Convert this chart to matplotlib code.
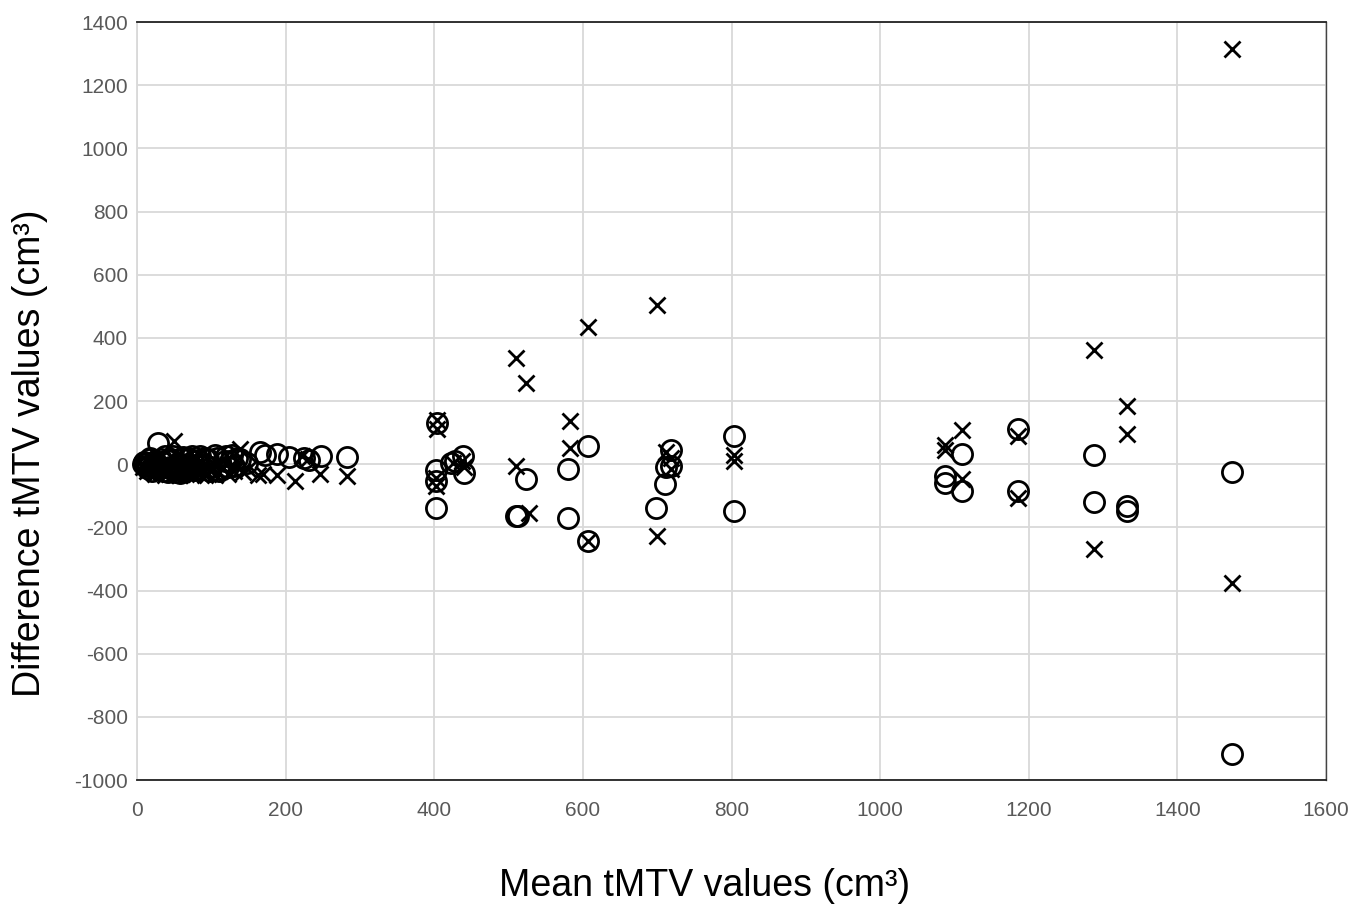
import matplotlib
matplotlib.use("Agg")
import matplotlib.pyplot as plt

plt.rcParams['font.family'] = ['Liberation Sans', 'DejaVu Sans']
plt.rcParams['axes.unicode_minus'] = False

# series 1 (circles): mean tMTV vs difference
mean_o = [8, 10, 12, 14, 15, 17, 18, 20, 22, 24, 25, 28, 30, 32, 33, 36, 38, 40, 42, 44, 46,
          48, 50, 52, 55, 58, 60, 62, 64, 66, 68, 70, 72, 74, 76, 78, 80, 82, 85, 88, 90, 92,
          95, 98, 100, 105, 108, 110, 115, 118, 120, 122, 125, 128, 130, 135, 138, 148, 165,
          172, 188, 205, 225, 232, 247, 282,
          404, 402, 402, 403, 423, 428, 439, 440, 510, 513, 524, 580, 580, 607, 607, 699,
          712, 710, 718, 718, 803, 803,
          1087, 1087, 1110, 1110, 1185, 1185, 1288, 1288, 1332, 1332, 1473, 1473]
diff_o = [0, 8, 5, -12, -5, 20, 15, -20, -10, 10, 0, 68, -15, 18, 8, -20, 25, 12, -25, -8, 18,
          25, -10, -25, 5, -28, 15, 22, -12, -20, 20, 0, -5, 25, 10, -15, -18, 12, 25, -5, 0, 20,
          15, -22, -10, 28, 20, -20, -15, 10, 25, -10, 10, 30, -5, 20, 15, 5, 38,
          30, 32, 22, 20, 12, 26, 22,
          130, -17, -54, -138, 4, 10, 25, -27, -163, -165, -48, -14, -170, 57, -242, -138,
          -10, -62, 45, -5, 89, -147,
          -38, -59, 31, -85, 112, -86, 28, -119, -133, -149, -25, -917]

# series 2 (crosses)
mean_x = [8, 10, 12, 14, 16, 18, 22, 24, 26, 30, 32, 35, 38, 40, 45, 48, 50, 55, 58, 60, 65,
          68, 70, 75, 78, 80, 85, 88, 92, 95, 100, 105, 108, 115, 122, 130, 138, 142, 150, 163,
          170, 188, 212, 222, 230, 246, 282,
          404, 404, 402, 402, 425, 438, 440, 510, 524, 510, 528, 582, 582, 607, 607, 700, 700,
          712, 718, 718, 803, 803,
          1087, 1087, 1110, 1110, 1185, 1185, 1288, 1288, 1332, 1332, 1473, 1473]
diff_x = [-8, -5, 10, -20, 5, -15, 5, -30, -20, 15, -25, -10, -35, -25, 5, -30, 75, -20, -35, -30, 10,
          -20, -25, -35, -15, 0, -30, -20, -35, -30, -15, -35, -25, -10, -30, -20, 48, -25, -15, -33,
          -30, -35, -52, 25, 15, -30, -38,
          140, 110, -70, -45, 5, 10, -10, 335, 256, -6, -154, 136, 52, 434, -242, 503, -228,
          40, 20, -15, 30, 10,
          60, 45, 107, -48, 89, -107, 361, -270, 184, 97, 1314, -376]

fig = plt.figure(figsize=(13.63, 9.07), dpi=100)
ax = fig.add_axes([0.1005, 0.14, 0.8724, 0.8357])

ax.plot(mean_o, diff_o, linestyle='none', marker='o', ms=14.5, mfc='none',
        mec='black', mew=2.0, zorder=3, clip_on=False)
ax.plot(mean_x, diff_x, linestyle='none', marker='x', ms=11.5, mec='black',
        mew=2.0, zorder=3, clip_on=False)

ax.set_xlim(0, 1600)
ax.set_ylim(-1000, 1400)
ax.set_xticks(range(0, 1601, 200))
ax.set_yticks(range(-1000, 1401, 200))
ax.grid(True, color='#d9d9d9', linewidth=1.3)
ax.set_axisbelow(True)

for s in ['top', 'bottom']:
    ax.spines[s].set_color('#222222')
    ax.spines[s].set_linewidth(1.3)
ax.spines['right'].set_color('#444444')
ax.spines['right'].set_linewidth(1.0)
ax.spines['left'].set_color('#d9d9d9')
ax.spines['left'].set_linewidth(1.3)

ax.tick_params(length=0, labelsize=15, colors='#595959')
ax.tick_params(axis='x', pad=15)
ax.tick_params(axis='y', pad=6.5)

fig.text(0.517, 1 - 886 / 907, 'Mean tMTV values (cm³)', fontsize=27,
         ha='center', va='center')
fig.text(30 / 1363, 0.5, 'Difference tMTV values (cm³)', fontsize=27,
         ha='center', va='center', rotation=90)

fig.savefig('out.png', dpi=100)
